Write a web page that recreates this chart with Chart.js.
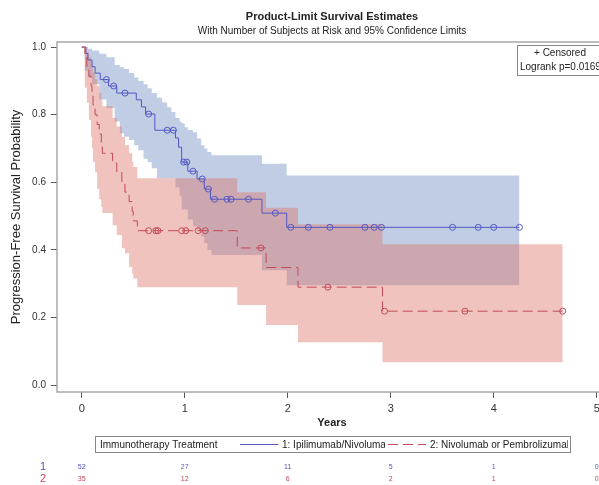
<!DOCTYPE html>
<html lang="en">
<head>
  <meta charset="UTF-8">
  <title>Product-Limit Survival Estimates</title>
  <script src="https://cdn.jsdelivr.net/npm/chart.js"></script>
  <style>
    html, body { margin: 0; padding: 0; background: #fff; overflow: hidden; }
    #wrap { width: 599px; height: 485px; overflow: hidden; }
    canvas { display: block; }
  </style>
</head>
<body>
  <div id="wrap"><canvas id="km" width="660" height="485"></canvas></div>

  <script>
    // at-risk table
    const yearTicks = [0, 1, 2, 3, 4, 5];
    const atRiskIpiNivo = [52, 27, 11, 5, 1, 0];
    const atRiskNivoPembro = [35, 12, 6, 2, 1, 0];

    // group 1: Ipilimumab/Nivolumab (step starts at each time)
    const ipiTimes = [0, 0.04, 0.06, 0.10, 0.13, 0.18, 0.26, 0.34, 0.53, 0.58, 0.62, 0.71, 0.91, 0.94, 0.97, 1.03, 1.12, 1.19, 1.25, 1.75, 1.99, 4.25];
    const ipiSurv  = [1, 0.981, 0.962, 0.942, 0.923, 0.904, 0.885, 0.864, 0.844, 0.823, 0.802, 0.754, 0.731, 0.704, 0.66, 0.633, 0.61, 0.58, 0.55, 0.509, 0.467, 0.467];
    const ipiCensored = [0.24, 0.31, 0.42, 0.65, 0.83, 0.89, 0.99, 1.02, 1.08, 1.17, 1.23, 1.29, 1.41, 1.45, 1.62, 1.88, 2.03, 2.20, 2.41, 2.75, 2.84, 2.91, 3.60, 3.85, 4.00, 4.25];
    const ipiBandTimes = [0, 0.03, 0.06, 0.10, 0.17, 0.24, 0.32, 0.37, 0.41, 0.46, 0.51, 0.55, 0.60, 0.64, 0.68, 0.73, 0.78, 0.83, 0.87, 0.91, 0.95, 0.97, 1.0, 1.03, 1.08, 1.12, 1.16, 1.19, 1.22, 1.26, 1.75, 1.99, 4.25];
    const ipiUpper = [1.0, 1.0, 0.995, 0.99, 0.98, 0.97, 0.947, 0.94, 0.935, 0.923, 0.91, 0.9, 0.89, 0.878, 0.864, 0.85, 0.837, 0.822, 0.808, 0.79, 0.78, 0.775, 0.763, 0.755, 0.748, 0.73, 0.71, 0.70, 0.69, 0.68, 0.655, 0.62, 0.62];
    const ipiLower = [1.0, 0.93, 0.91, 0.89, 0.845, 0.82, 0.78, 0.745, 0.735, 0.725, 0.71, 0.695, 0.67, 0.66, 0.642, 0.612, 0.612, 0.612, 0.612, 0.585, 0.56, 0.52, 0.52, 0.49, 0.47, 0.455, 0.44, 0.42, 0.40, 0.385, 0.34, 0.296, 0.296];

    // group 2: Nivolumab or Pembrolizumab
    const pemTimes = [0, 0.03, 0.05, 0.07, 0.09, 0.10, 0.11, 0.13, 0.15, 0.17, 0.19, 0.20, 0.30, 0.34, 0.39, 0.42, 0.46, 0.49, 0.50, 0.54, 1.51, 1.79, 2.10, 2.92, 4.67];
    const pemSurv  = [1, 0.971, 0.943, 0.914, 0.886, 0.857, 0.829, 0.80, 0.771, 0.743, 0.714, 0.686, 0.657, 0.629, 0.60, 0.571, 0.543, 0.514, 0.486, 0.457, 0.406, 0.348, 0.29, 0.219, 0.219];
    const pemUpper = [1, 0.996, 0.985, 0.97, 0.955, 0.94, 0.925, 0.905, 0.885, 0.865, 0.845, 0.825, 0.79, 0.765, 0.734, 0.71, 0.686, 0.66, 0.645, 0.612, 0.571, 0.525, 0.476, 0.417, 0.417];
    const pemLower = [1, 0.88, 0.835, 0.785, 0.735, 0.70, 0.66, 0.63, 0.58, 0.55, 0.527, 0.509, 0.473, 0.444, 0.405, 0.39, 0.35, 0.33, 0.316, 0.29, 0.237, 0.178, 0.127, 0.068, 0.068];
    const pemCensored = [0.65, 0.72, 0.74, 0.97, 1.01, 1.13, 1.20, 1.74, 2.39, 2.94, 3.72, 4.67];

    const blue = '#5558c2';
    const red = '#c24a58';
    const blueFill = 'rgba(115,144,195,0.45)';
    const redFill = 'rgba(222,122,111,0.45)';
    const font = 'Arial, "Liberation Sans", sans-serif';

    const toPts = (xs, ys) => xs.map((x, i) => ({ x: x, y: ys[i] }));
    function survAt(xs, ys, t) {
      let s = ys[0];
      for (let i = 0; i < xs.length; i++) if (xs[i] <= t) s = ys[i];
      return s;
    }
    const censPts = (cs, xs, ys) => cs.map(t => ({ x: t, y: survAt(xs, ys, t) }));

    const bandStyle = { borderWidth: 0, pointRadius: 0, stepped: true };

    const extras = {
      id: 'extras',
      afterDraw(chart) {
        const { ctx, chartArea: a, scales: { x } } = chart;
        ctx.save();
        // plot frame
        ctx.strokeStyle = '#a8a8a8';
        ctx.lineWidth = 1.5;
        ctx.strokeRect(a.left, a.top, a.right - a.left, a.bottom - a.top);

        // censored / logrank box
        ctx.lineWidth = 1;
        ctx.strokeStyle = '#888';
        ctx.fillStyle = '#fff';
        ctx.fillRect(517.5, 45.5, 86, 30);
        ctx.strokeRect(517.5, 45.5, 86, 30);
        ctx.fillStyle = '#222';
        ctx.font = '10px ' + font;
        ctx.textBaseline = 'middle';
        ctx.textAlign = 'center';
        ctx.fillText('+ Censored', 560, 53);
        ctx.textAlign = 'left';
        ctx.fillText('Logrank p=0.0169', 520, 67);

        // legend box
        ctx.strokeRect(95.5, 436.5, 475, 16);
        ctx.fillText('Immunotherapy Treatment', 100, 445);
        ctx.strokeStyle = blue;
        ctx.beginPath(); ctx.moveTo(240, 444.5); ctx.lineTo(278, 444.5); ctx.stroke();
        ctx.save();
        ctx.beginPath(); ctx.rect(280, 437, 105, 15); ctx.clip();
        ctx.fillText('1: Ipilimumab/Nivolumab', 282, 445);
        ctx.restore();
        ctx.strokeStyle = red;
        ctx.setLineDash([10, 5]);
        ctx.beginPath(); ctx.moveTo(388, 444.5); ctx.lineTo(426, 444.5); ctx.stroke();
        ctx.setLineDash([]);
        ctx.save();
        ctx.beginPath(); ctx.rect(428, 437, 140, 15); ctx.clip();
        ctx.fillText('2: Nivolumab or Pembrolizumab', 430, 445);
        ctx.restore();

        // subjects at risk
        ctx.textAlign = 'center';
        ctx.font = '11px ' + font;
        ctx.fillStyle = blue;
        ctx.fillText('1', 43, 467);
        ctx.fillStyle = red;
        ctx.fillText('2', 43, 479);
        ctx.font = '7px ' + font;
        yearTicks.forEach((t, i) => {
          const px = x.getPixelForValue(t);
          ctx.fillStyle = blue;
          ctx.fillText(String(atRiskIpiNivo[i]), px, 467);
          ctx.fillStyle = red;
          ctx.fillText(String(atRiskNivoPembro[i]), px, 479);
        });
        ctx.restore();
      }
    };

    const ctx = document.getElementById('km').getContext('2d');
    new Chart(ctx, {
      type: 'line',
      data: {
        datasets: [
          { label: 'ipiUpper', data: toPts(ipiBandTimes, ipiUpper), fill: '+1', backgroundColor: blueFill, order: 8, ...bandStyle },
          { label: 'ipiLower', data: toPts(ipiBandTimes, ipiLower), fill: false, order: 7, ...bandStyle },
          { label: 'pemUpper', data: toPts(pemTimes, pemUpper), fill: '+1', backgroundColor: redFill, order: 6, ...bandStyle },
          { label: 'pemLower', data: toPts(pemTimes, pemLower), fill: false, order: 5, ...bandStyle },
          { label: '1: Ipilimumab/Nivolumab', data: toPts(ipiTimes, ipiSurv), stepped: true, borderColor: blue, borderWidth: 1, pointRadius: 0, fill: false, order: 3 },
          { label: '2: Nivolumab or Pembrolizumab', data: toPts(pemTimes, pemSurv), stepped: true, borderColor: red, borderWidth: 1, borderDash: [10, 5], pointRadius: 0, fill: false, order: 2 },
          { label: 'cens1', data: censPts(ipiCensored, ipiTimes, ipiSurv), showLine: false, pointStyle: 'circle', pointRadius: 3, pointBorderWidth: 1, pointBorderColor: blue, pointBackgroundColor: 'rgba(0,0,0,0)', order: 1 },
          { label: 'cens2', data: censPts(pemCensored, pemTimes, pemSurv), showLine: false, pointStyle: 'circle', pointRadius: 3, pointBorderWidth: 1, pointBorderColor: red, pointBackgroundColor: 'rgba(0,0,0,0)', order: 0 }
        ]
      },
      options: {
        responsive: false,
        animation: false,
        layout: { padding: { left: 0, right: 53, top: 10, bottom: 48 } },
        plugins: {
          legend: { display: false },
          tooltip: { enabled: false },
          title: {
            display: true, fullSize: false, color: '#222',
            text: 'Product-Limit Survival Estimates',
            font: { family: font, size: 11, weight: 'bold' },
            padding: { top: 0, bottom: 0 }
          },
          subtitle: {
            display: true, fullSize: false, color: '#222',
            text: 'With Number of Subjects at Risk and 95% Confidence Limits',
            font: { family: font, size: 10 },
            padding: { top: 2, bottom: 4.8 }
          }
        },
        scales: {
          x: {
            type: 'linear', min: -0.24, max: 5.1,
            border: { display: false },
            grid: { drawOnChartArea: false, drawTicks: true, tickLength: 6, color: '#555' },
            ticks: { stepSize: 1, includeBounds: false, padding: 4, color: '#333', font: { family: font, size: 11 } },
            title: { display: true, text: 'Years', color: '#222', font: { family: font, size: 11, weight: 'bold' }, padding: { top: 0, bottom: 7 } },
            afterFit: s => { s.height = 45; }
          },
          y: {
            min: -0.02, max: 1.015,
            border: { display: false },
            grid: { drawOnChartArea: false, drawTicks: true, tickLength: 6, color: '#555' },
            ticks: { stepSize: 0.2, includeBounds: false, padding: 5, color: '#333', font: { family: font, size: 10 }, callback: v => v.toFixed(1) },
            title: { display: true, text: 'Progression-Free Survival Probability', color: '#222', font: { family: font, size: 13 }, padding: { top: 9, bottom: 0 } },
            afterFit: s => { s.width = 57; }
          }
        }
      },
      plugins: [extras]
    });
  </script>
</body>
</html>
